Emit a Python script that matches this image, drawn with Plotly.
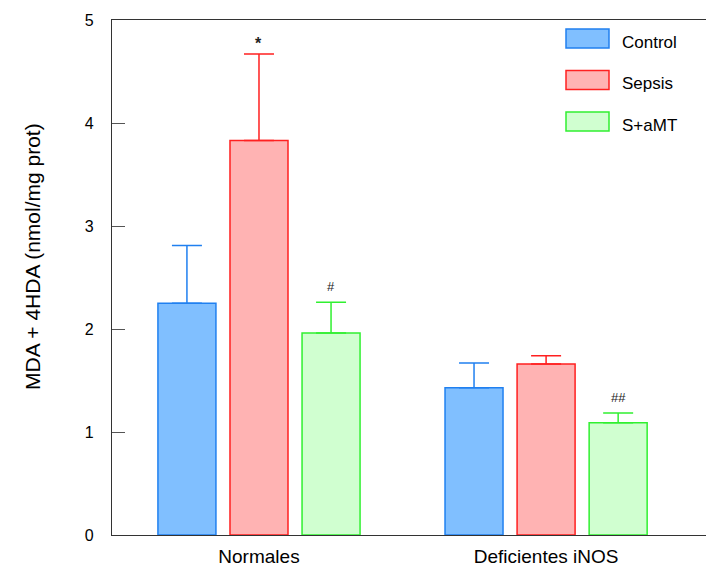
import plotly.graph_objects as go

groups = ["Normales", "Deficientes iNOS"]
series = ["Control", "Sepsis", "S+aMT"]
values = {
    "Control": [2.25, 1.43],
    "Sepsis": [3.83, 1.66],
    "S+aMT": [1.96, 1.09],
}
errors = {
    "Control": [0.56, 0.24],
    "Sepsis": [0.84, 0.08],
    "S+aMT": [0.30, 0.095],
}
fills = {"Control": "#80BFFF", "Sepsis": "#FFB3B3", "S+aMT": "#D0FFD0"}
lines = {"Control": "#2080F0", "Sepsis": "#FF2020", "S+aMT": "#30F030"}
# significance marks: (series, group index, label)
marks = [("Sepsis", 0, "*"), ("S+aMT", 0, "#"), ("S+aMT", 1, "##")]
yticks = [0, 1, 2, 3, 4, 5]

FONT = "Liberation Sans, Arial, sans-serif"
bargap = 0.247
slot = (1 - bargap) / len(series)

fig = go.Figure()
for s in series:
    fig.add_trace(go.Bar(
        name=s, x=groups, y=values[s],
        marker=dict(color=fills[s], line=dict(color=lines[s], width=1.5)),
        error_y=dict(type="data", symmetric=False, array=errors[s],
                     arrayminus=[0] * len(groups), color=lines[s],
                     thickness=1.5, width=15),
        showlegend=False,
    ))

for s, gi, lab in marks:
    si = series.index(s)
    star = lab == "*"
    fig.add_annotation(
        x=gi + (si - 1) * slot, y=values[s][gi] + errors[s][gi],
        xref="x", yref="y", text=f"<b>{lab}</b>" if star else lab,
        showarrow=False, yanchor="bottom", yshift=0 if star else 6,
        font=dict(family=FONT, size=16 if star else 13, color="#222"),
    )

# custom legend
for i, s in enumerate(series):
    y0 = 29 + i * 41.5
    fig.add_shape(type="rect", xref="paper", yref="paper",
                  x0=(566 - 112) / 594, x1=(609 - 112) / 594,
                  y0=1 - (y0 + 19 - 20) / 515, y1=1 - (y0 - 20) / 515,
                  fillcolor=fills[s], line=dict(color=lines[s], width=1.5))
    fig.add_annotation(xref="paper", yref="paper",
                       x=(620 - 112) / 594, y=1 - (y0 + 13 - 20) / 515,
                       text=s, showarrow=False, xanchor="left", yanchor="middle",
                       font=dict(family=FONT, size=17, color="black"))

# y-axis title
fig.add_annotation(xref="paper", yref="paper", x=-(112 - 32) / 594,
                   y=1 - (257 - 20) / 515, text="MDA + 4HDA (nmol/mg prot)",
                   textangle=-90, showarrow=False, xanchor="center", yanchor="middle",
                   font=dict(family=FONT, size=21, color="black"))

fig.update_layout(
    width=706, height=567,
    margin=dict(l=112, r=0, t=20, b=32),
    plot_bgcolor="white", paper_bgcolor="white",
    barmode="group", bargap=bargap, bargroupgap=0.195,
    font=dict(family=FONT, size=16, color="black"),
    xaxis=dict(range=[-0.512, 1.557], showline=True, linecolor="#333",
               linewidth=1.2, mirror=True, ticks="", showgrid=False,
               tickfont=dict(size=19), ticklabelstandoff=4),
    yaxis=dict(range=[0, 5], tickvals=yticks, showline=True, linecolor="#333",
               linewidth=1.2, ticks="inside", ticklen=13, tickcolor="#555",
               showgrid=False, zeroline=False, tickfont=dict(size=16),
               ticklabelstandoff=14),
)

fig.write_html("out.html")
